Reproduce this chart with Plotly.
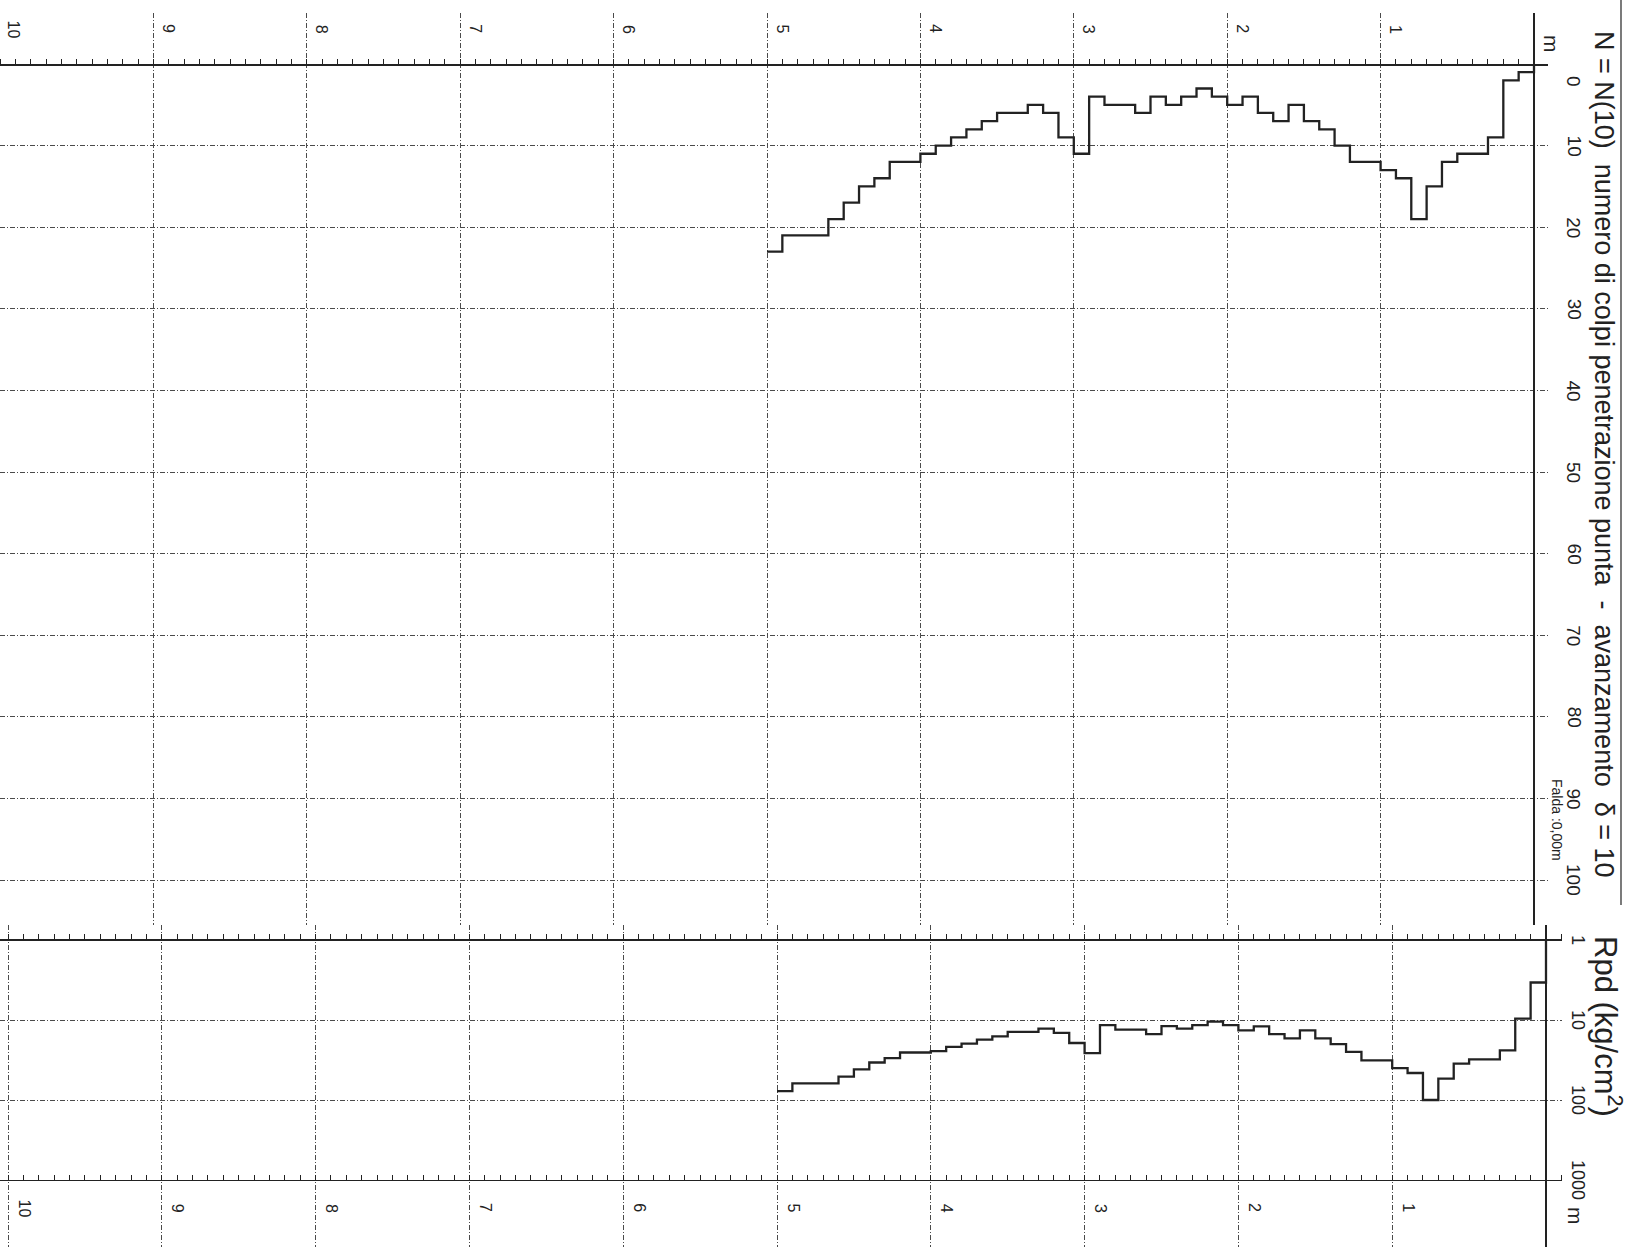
import numpy as np
import plotly.graph_objects as go

# ---------------- data ----------------
step_top_m = [round(0.1 * i, 1) for i in range(50)]          # top depth of each 10 cm step
step_bottom_m = 5.0
N_blows = [1, 2, 9, 11, 11, 12, 15, 19, 14, 13,
           12, 12, 10, 8, 7, 5, 7, 6, 4, 5,
           4, 3, 4, 5, 4, 6, 5, 5, 4, 11,
           9, 6, 5, 6, 6, 7, 8, 9, 10, 11,
           12, 12, 14, 15, 17, 19, 21, 21, 21, 23]
Rpd = [3.4, 9.6, 24, 31, 31, 35, 54, 100, 46, 40,
       32, 32, 25, 20, 17, 13.5, 17, 15, 12, 13.5,
       11.6, 10.5, 11.6, 12.8, 11.9, 15, 13.2, 13.2, 11.6, 26,
       19.4, 14.5, 12.8, 14.1, 14.1, 16, 17.6, 19.7, 21.7, 24.5,
       25.5, 25.5, 30, 34, 41.5, 51, 62, 62, 62, 77.5]
depth_ticks = [1, 2, 3, 4, 5, 6, 7, 8, 9, 10]
N_ticks = [0, 10, 20, 30, 40, 50, 60, 70, 80, 90, 100]
Rpd_ticks = [1, 10, 100, 1000]

TITLE_N = "N = N(10)  numero di colpi penetrazione punta  -  avanzamento  δ = 10"
TITLE_R = "Rpd (kg/cm<sup>2</sup>)"
FALDA = "Falda :0,00m"

# ---------------- layout helpers ----------------
W, H = 1627, 1247
def fx(px):
    return px / W
def fy(py):
    return 1 - py / H

INK = "#222222"
GRID = "#4a4a4a"
FONT = "Liberation Sans, Arial, sans-serif"
DASH = "5px,2px,1px,2px"

fig = go.Figure()

# N step curve
fig.add_trace(go.Scatter(
    x=[0.0] + step_top_m + [step_bottom_m],
    y=[0] + N_blows + [N_blows[-1]],
    mode="lines", line=dict(color=INK, width=2.3, shape="hv"),
    xaxis="x", yaxis="y", showlegend=False, hoverinfo="skip"))

# Rpd step curve
fig.add_trace(go.Scatter(
    x=[0.0] + step_top_m + [step_bottom_m],
    y=[1] + Rpd + [Rpd[-1]],
    mode="lines", line=dict(color=INK, width=2.3, shape="hv"),
    xaxis="x2", yaxis="y2", showlegend=False, hoverinfo="skip"))

# helper empty trace for the lower ruler axis
fig.add_trace(go.Scatter(x=[None], y=[None], xaxis="x3", yaxis="y2",
                         showlegend=False, hoverinfo="skip"))

# top panel geometry (pixels)
TOP_X0, TOP_X1 = 0, 1548
TOP_D0 = 1534          # pixel of depth 0
PX_M_TOP = 153.4
N0_PX, N_PX = 64, 8.16
TOP_Y0, TOP_Y1 = 13, 925

# bottom panel geometry
BOT_X0, BOT_X1 = 0, 1562
BOT_D0 = 1546
PX_M_BOT = 153.8
R1_PX, DEC_PX = 940, 80
BOT_Y0, BOT_Y1 = 925, 1247

axis_common = dict(showticklabels=False, zeroline=False, fixedrange=True)

fig.update_layout(
    width=W, height=H,
    margin=dict(l=0, r=0, t=0, b=0),
    paper_bgcolor="white", plot_bgcolor="white",
    font=dict(family=FONT, color=INK),
    xaxis=dict(
        domain=[fx(TOP_X0), fx(TOP_X1)],
        range=[(TOP_D0 - TOP_X0) / PX_M_TOP, (TOP_D0 - TOP_X1) / PX_M_TOP],
        anchor="free", position=fy(N0_PX), side="top",
        showline=True, linecolor=INK, linewidth=1.6,
        ticks="outside", ticklen=5, tickcolor=INK, tickwidth=1,
        tick0=0, dtick=1,
        minor=dict(dtick=0.1, ticks="outside", ticklen=5, tickcolor=INK, tickwidth=1, showgrid=False),
        showgrid=True, gridcolor=GRID, gridwidth=1, griddash=DASH,
        showticklabels=False, zeroline=True, zerolinecolor=INK, zerolinewidth=1.4,
        fixedrange=True),
    yaxis=dict(
        domain=[fy(TOP_Y1), fy(TOP_Y0)],
        range=[(TOP_Y1 - N0_PX) / N_PX, (TOP_Y0 - N0_PX) / N_PX],
        anchor="x", tick0=0, dtick=10,
        showgrid=True, gridcolor=GRID, gridwidth=1, griddash=DASH,
        showline=False, ticks="", **axis_common),
    xaxis2=dict(
        domain=[fx(BOT_X0), fx(BOT_X1)],
        range=[(BOT_D0 - BOT_X0) / PX_M_BOT, (BOT_D0 - BOT_X1) / PX_M_BOT],
        anchor="free", position=fy(R1_PX), side="top",
        showline=True, linecolor=INK, linewidth=2,
        ticks="outside", ticklen=5, tickcolor=INK, tickwidth=1,
        tick0=0, dtick=1,
        minor=dict(dtick=0.1, ticks="outside", ticklen=5, tickcolor=INK, tickwidth=1, showgrid=False),
        showgrid=True, gridcolor=GRID, gridwidth=1, griddash=DASH,
        showticklabels=False, zeroline=True, zerolinecolor=INK, zerolinewidth=1.4,
        fixedrange=True),
    xaxis3=dict(
        overlaying="x2",
        range=[(BOT_D0 - BOT_X0) / PX_M_BOT, (BOT_D0 - BOT_X1) / PX_M_BOT],
        anchor="free", position=fy(R1_PX + 3 * DEC_PX), side="top",
        showline=True, linecolor=INK, linewidth=1.4,
        ticks="outside", ticklen=5, tickcolor=INK, tickwidth=1,
        tick0=0, dtick=1,
        minor=dict(dtick=0.1, ticks="outside", ticklen=5, tickcolor=INK, tickwidth=1, showgrid=False),
        showgrid=False, showticklabels=False, zeroline=False, fixedrange=True),
    yaxis2=dict(
        domain=[fy(BOT_Y1), fy(BOT_Y0)],
        type="log",
        range=[(BOT_Y1 - R1_PX) / DEC_PX, (BOT_Y0 - R1_PX) / DEC_PX],
        anchor="x2", tickvals=[10, 100],
        showgrid=True, gridcolor=GRID, gridwidth=1, griddash=DASH,
        showline=False, ticks="", **axis_common),
)

annotations = []

def rot_text(text, x, y, size, xref="paper", yref="paper", xanchor="center", yanchor="middle",
             xshift=0, yshift=0):
    annotations.append(dict(text=text, x=x, y=y, xref=xref, yref=yref, textangle=90,
                            showarrow=False, xanchor=xanchor, yanchor=yanchor,
                            xshift=xshift, yshift=yshift,
                            font=dict(family=FONT, size=size, color=INK)))

# depth labels (top and bottom)
for d in depth_ticks:
    rot_text(str(d), d, fy(29), 16, xref="x", xanchor="left", xshift=(3 if d == 10 else 5))
    rot_text(str(d), d, fy(1208), 16, xref="x2", xanchor="left", xshift=6)

# N labels
for n in N_ticks:
    rot_text(str(n), fx(1574), n, 19, yref="y", yshift=(-17 if n == 0 else 0))

# Rpd labels
for r in Rpd_ticks:
    rot_text(str(r), fx(1578), np.log10(r), 18, yref="y2")

# titles and small labels
rot_text(TITLE_N, fx(1604), fy(454), 27)
rot_text(TITLE_R, fx(1608), fy(1026), 31)
rot_text("m", fx(1552), fy(44), 21)
rot_text("m", fx(1576), fy(1216), 21)
rot_text(FALDA, fx(1557), fy(820), 14)

fig.update_layout(annotations=annotations)

# right frame line of the header area
fig.add_shape(type="line", xref="paper", yref="paper",
              x0=fx(1621), x1=fx(1621), y0=fy(0), y1=fy(905),
              line=dict(color=INK, width=1.2))

fig.write_html("out.html", config={"displayModeBar": False, "staticPlot": True},
               post_script="document.body.style.margin='0';document.body.style.overflow='hidden';")
